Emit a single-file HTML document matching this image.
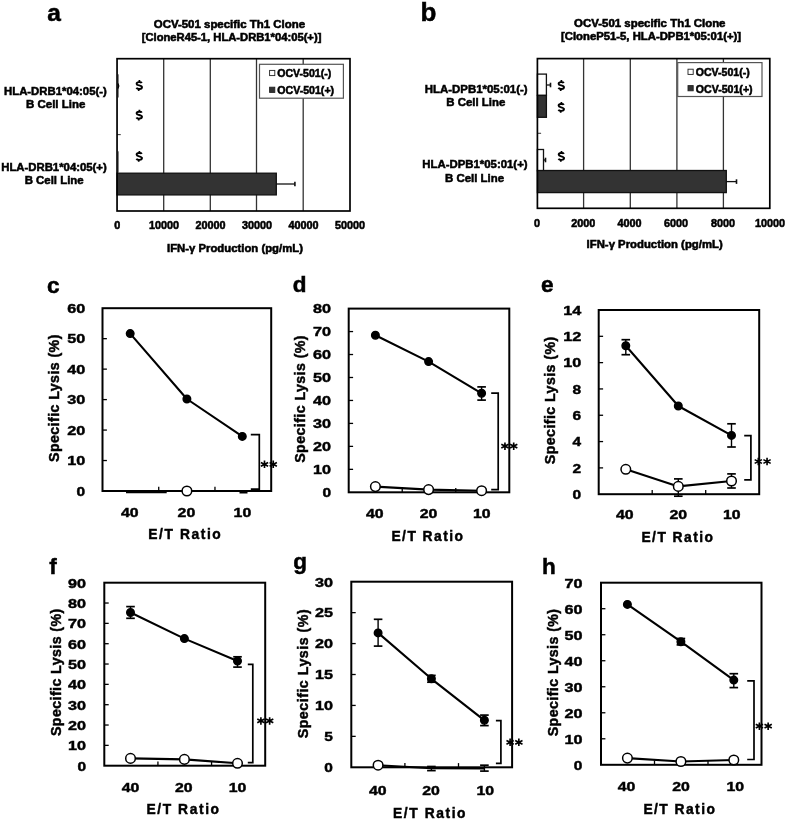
<!DOCTYPE html><html><head><meta charset="utf-8"><style>html,body{margin:0;padding:0;background:#fff;overflow:hidden;}svg{display:block;will-change:transform;}text{font-family:"Liberation Sans",sans-serif;font-weight:bold;fill:#000;}</style></head><body>
<svg width="787" height="820" viewBox="0 0 787 820">
<rect width="787" height="820" fill="#fff"/>
<line x1="163.70" y1="58.70" x2="163.70" y2="211.00" stroke="#333" stroke-width="1.3"/>
<line x1="210.30" y1="58.70" x2="210.30" y2="211.00" stroke="#333" stroke-width="1.3"/>
<line x1="256.50" y1="58.70" x2="256.50" y2="211.00" stroke="#333" stroke-width="1.3"/>
<line x1="303.20" y1="58.70" x2="303.20" y2="211.00" stroke="#333" stroke-width="1.3"/>
<line x1="117.05" y1="134.60" x2="120.75" y2="134.60" stroke="#444" stroke-width="1.1"/>
<rect x="117.05" y="173.20" width="159.25" height="21.70" fill="#333" stroke="#111" stroke-width="1.3"/>
<line x1="276.30" y1="184.00" x2="294.90" y2="184.00" stroke="#111" stroke-width="1.3"/>
<line x1="294.90" y1="181.70" x2="294.90" y2="186.30" stroke="#111" stroke-width="1.6"/>
<path d="M118.3,74.3 V97.5 M118.3,151.3 V173" stroke="#555" stroke-width="0.9"/>
<path d="M118,83.5 Q119.6,86 118,88.5" stroke="#000" stroke-width="1.3" fill="none"/>
<rect x="117.05" y="58.70" width="232.95" height="152.30" fill="none" stroke="#000" stroke-width="1.7"/>
<rect x="259.50" y="64.30" width="83.90" height="33.90" fill="#fff" stroke="#555" stroke-width="1.2"/>
<rect x="269.60" y="70.40" width="5.20" height="5.20" fill="#fff" stroke="#222" stroke-width="0.9"/>
<text x="277.30" y="77.30" font-size="11" text-anchor="start" textLength="53.9" lengthAdjust="spacingAndGlyphs" stroke="#000" stroke-width="0.55">OCV-501(-)</text>
<rect x="269.60" y="87.20" width="5.20" height="5.20" fill="#333" stroke="#222" stroke-width="0.9"/>
<text x="277.30" y="94.10" font-size="11" text-anchor="start" textLength="56.8" lengthAdjust="spacingAndGlyphs" stroke="#000" stroke-width="0.55">OCV-501(+)</text>
<path d="M141.80,83.00 C141.20,81.80 136.60,81.60 136.60,83.90 C136.60,85.70 142.00,85.10 142.00,87.20 C142.00,89.40 137.40,89.50 136.40,87.80" fill="none" stroke="#000" stroke-width="1.9"/>
<path d="M139.40,80.10 V82.20 M138.70,88.80 V90.90" fill="none" stroke="#000" stroke-width="1.7"/>
<path d="M141.80,112.60 C141.20,111.40 136.60,111.20 136.60,113.50 C136.60,115.30 142.00,114.70 142.00,116.80 C142.00,119.00 137.40,119.10 136.40,117.40" fill="none" stroke="#000" stroke-width="1.9"/>
<path d="M139.40,109.70 V111.80 M138.70,118.40 V120.50" fill="none" stroke="#000" stroke-width="1.7"/>
<path d="M141.80,153.90 C141.20,152.70 136.60,152.50 136.60,154.80 C136.60,156.60 142.00,156.00 142.00,158.10 C142.00,160.30 137.40,160.40 136.40,158.70" fill="none" stroke="#000" stroke-width="1.9"/>
<path d="M139.40,151.00 V153.10 M138.70,159.70 V161.80" fill="none" stroke="#000" stroke-width="1.7"/>
<text x="117.30" y="229.40" font-size="10.8" text-anchor="middle" stroke="#000" stroke-width="0.55">0</text>
<text x="164.00" y="229.40" font-size="10.8" text-anchor="middle" stroke="#000" stroke-width="0.55">10000</text>
<text x="210.50" y="229.40" font-size="10.8" text-anchor="middle" stroke="#000" stroke-width="0.55">20000</text>
<text x="257.00" y="229.40" font-size="10.8" text-anchor="middle" stroke="#000" stroke-width="0.55">30000</text>
<text x="303.50" y="229.40" font-size="10.8" text-anchor="middle" stroke="#000" stroke-width="0.55">40000</text>
<text x="350.00" y="229.40" font-size="10.8" text-anchor="middle" stroke="#000" stroke-width="0.55">50000</text>
<text x="47.20" y="20.70" font-size="24.5" text-anchor="start" stroke="#000" stroke-width="0.5">a</text>
<text x="153.80" y="28.20" font-size="10.6" text-anchor="start" textLength="151.3" lengthAdjust="spacingAndGlyphs" stroke="#000" stroke-width="0.55">OCV-501 specific Th1 Clone</text>
<text x="141.70" y="40.80" font-size="10.6" text-anchor="start" textLength="179.7" lengthAdjust="spacingAndGlyphs" stroke="#000" stroke-width="0.55">[CloneR45-1, HLA-DRB1*04:05(+)]</text>
<text x="4.00" y="94.80" font-size="11.8" text-anchor="start" textLength="102.8" lengthAdjust="spacingAndGlyphs" stroke="#000" stroke-width="0.55">HLA-DRB1*04:05(-)</text>
<text x="26.00" y="107.80" font-size="11.8" text-anchor="start" textLength="59.3" lengthAdjust="spacingAndGlyphs" stroke="#000" stroke-width="0.55">B Cell Line</text>
<text x="1.20" y="171.00" font-size="11.8" text-anchor="start" textLength="105.6" lengthAdjust="spacingAndGlyphs" stroke="#000" stroke-width="0.55">HLA-DRB1*04:05(+)</text>
<text x="24.70" y="184.30" font-size="11.8" text-anchor="start" textLength="59.0" lengthAdjust="spacingAndGlyphs" stroke="#000" stroke-width="0.55">B Cell Line</text>
<text x="167.00" y="251.60" font-size="11" text-anchor="start" textLength="135.9" lengthAdjust="spacingAndGlyphs" stroke="#000" stroke-width="0.55">IFN-γ Production (pg/mL)</text>
<line x1="583.60" y1="58.60" x2="583.60" y2="208.30" stroke="#333" stroke-width="1.3"/>
<line x1="630.30" y1="58.60" x2="630.30" y2="208.30" stroke="#333" stroke-width="1.3"/>
<line x1="676.90" y1="58.60" x2="676.90" y2="208.30" stroke="#333" stroke-width="1.3"/>
<line x1="723.40" y1="58.60" x2="723.40" y2="208.30" stroke="#333" stroke-width="1.3"/>
<line x1="537.40" y1="133.30" x2="541.10" y2="133.30" stroke="#444" stroke-width="1.1"/>
<rect x="537.40" y="74.10" width="9.00" height="21.30" fill="#fff" stroke="#111" stroke-width="1.3"/>
<line x1="546.40" y1="85.00" x2="550.50" y2="85.00" stroke="#111" stroke-width="1.3"/>
<line x1="550.50" y1="82.70" x2="550.50" y2="87.30" stroke="#111" stroke-width="1.6"/>
<rect x="537.40" y="95.40" width="9.00" height="21.90" fill="#333" stroke="#111" stroke-width="1.3"/>
<rect x="537.40" y="149.50" width="6.10" height="21.30" fill="#fff" stroke="#111" stroke-width="1.3"/>
<line x1="543.50" y1="160.00" x2="545.50" y2="160.00" stroke="#111" stroke-width="1.3"/>
<line x1="545.50" y1="157.70" x2="545.50" y2="162.30" stroke="#111" stroke-width="1.6"/>
<rect x="537.40" y="170.50" width="188.90" height="22.10" fill="#333" stroke="#111" stroke-width="1.3"/>
<line x1="726.30" y1="181.60" x2="736.50" y2="181.60" stroke="#111" stroke-width="1.3"/>
<line x1="736.50" y1="179.30" x2="736.50" y2="183.90" stroke="#111" stroke-width="1.6"/>
<rect x="537.40" y="58.60" width="232.40" height="149.70" fill="none" stroke="#000" stroke-width="1.7"/>
<rect x="677.70" y="62.60" width="84.30" height="33.90" fill="#fff" stroke="#555" stroke-width="1.2"/>
<rect x="688.00" y="69.20" width="5.20" height="5.20" fill="#fff" stroke="#222" stroke-width="0.9"/>
<text x="695.80" y="76.10" font-size="11" text-anchor="start" textLength="53.9" lengthAdjust="spacingAndGlyphs" stroke="#000" stroke-width="0.55">OCV-501(-)</text>
<rect x="688.00" y="85.60" width="5.20" height="5.20" fill="#333" stroke="#222" stroke-width="0.9"/>
<text x="695.80" y="92.50" font-size="11" text-anchor="start" textLength="56.8" lengthAdjust="spacingAndGlyphs" stroke="#000" stroke-width="0.55">OCV-501(+)</text>
<path d="M563.80,83.00 C563.20,81.80 558.60,81.60 558.60,83.90 C558.60,85.70 564.00,85.10 564.00,87.20 C564.00,89.40 559.40,89.50 558.40,87.80" fill="none" stroke="#000" stroke-width="1.9"/>
<path d="M561.40,80.10 V82.20 M560.70,88.80 V90.90" fill="none" stroke="#000" stroke-width="1.7"/>
<path d="M563.80,104.90 C563.20,103.70 558.60,103.50 558.60,105.80 C558.60,107.60 564.00,107.00 564.00,109.10 C564.00,111.30 559.40,111.40 558.40,109.70" fill="none" stroke="#000" stroke-width="1.9"/>
<path d="M561.40,102.00 V104.10 M560.70,110.70 V112.80" fill="none" stroke="#000" stroke-width="1.7"/>
<path d="M563.90,153.90 C563.30,152.70 558.70,152.50 558.70,154.80 C558.70,156.60 564.10,156.00 564.10,158.10 C564.10,160.30 559.50,160.40 558.50,158.70" fill="none" stroke="#000" stroke-width="1.9"/>
<path d="M561.50,151.00 V153.10 M560.80,159.70 V161.80" fill="none" stroke="#000" stroke-width="1.7"/>
<text x="537.00" y="226.50" font-size="10.8" text-anchor="middle" stroke="#000" stroke-width="0.55">0</text>
<text x="583.20" y="226.50" font-size="10.8" text-anchor="middle" stroke="#000" stroke-width="0.55">2000</text>
<text x="629.60" y="226.50" font-size="10.8" text-anchor="middle" stroke="#000" stroke-width="0.55">4000</text>
<text x="676.00" y="226.50" font-size="10.8" text-anchor="middle" stroke="#000" stroke-width="0.55">6000</text>
<text x="723.10" y="226.50" font-size="10.8" text-anchor="middle" stroke="#000" stroke-width="0.55">8000</text>
<text x="770.00" y="226.50" font-size="10.8" text-anchor="middle" stroke="#000" stroke-width="0.55">10000</text>
<text x="420.60" y="20.70" font-size="26" text-anchor="start" stroke="#000" stroke-width="0.5">b</text>
<text x="574.10" y="27.30" font-size="10.6" text-anchor="start" textLength="151.4" lengthAdjust="spacingAndGlyphs" stroke="#000" stroke-width="0.55">OCV-501 specific Th1 Clone</text>
<text x="561.00" y="40.20" font-size="10.6" text-anchor="start" textLength="180.1" lengthAdjust="spacingAndGlyphs" stroke="#000" stroke-width="0.55">[CloneP51-5, HLA-DPB1*05:01(+)]</text>
<text x="424.80" y="93.10" font-size="11.8" text-anchor="start" textLength="102.8" lengthAdjust="spacingAndGlyphs" stroke="#000" stroke-width="0.55">HLA-DPB1*05:01(-)</text>
<text x="446.30" y="106.30" font-size="11.8" text-anchor="start" textLength="59.0" lengthAdjust="spacingAndGlyphs" stroke="#000" stroke-width="0.55">B Cell Line</text>
<text x="422.30" y="168.30" font-size="11.8" text-anchor="start" textLength="105.3" lengthAdjust="spacingAndGlyphs" stroke="#000" stroke-width="0.55">HLA-DPB1*05:01(+)</text>
<text x="445.10" y="181.50" font-size="11.8" text-anchor="start" textLength="59.0" lengthAdjust="spacingAndGlyphs" stroke="#000" stroke-width="0.55">B Cell Line</text>
<text x="586.60" y="248.00" font-size="11" text-anchor="start" textLength="136.1" lengthAdjust="spacingAndGlyphs" stroke="#000" stroke-width="0.55">IFN-γ Production (pg/mL)</text>
<text x="85.20" y="495.80" font-size="13.6" text-anchor="end" textLength="8.6" lengthAdjust="spacingAndGlyphs" stroke="#000" stroke-width="0.45">0</text>
<line x1="102.50" y1="460.53" x2="106.90" y2="460.53" stroke="#000" stroke-width="1.3"/>
<text x="85.20" y="465.33" font-size="13.6" text-anchor="end" textLength="18.0" lengthAdjust="spacingAndGlyphs" stroke="#000" stroke-width="0.45">10</text>
<line x1="102.50" y1="430.07" x2="106.90" y2="430.07" stroke="#000" stroke-width="1.3"/>
<text x="85.20" y="434.87" font-size="13.6" text-anchor="end" textLength="18.0" lengthAdjust="spacingAndGlyphs" stroke="#000" stroke-width="0.45">20</text>
<line x1="102.50" y1="399.60" x2="106.90" y2="399.60" stroke="#000" stroke-width="1.3"/>
<text x="85.20" y="404.40" font-size="13.6" text-anchor="end" textLength="18.0" lengthAdjust="spacingAndGlyphs" stroke="#000" stroke-width="0.45">30</text>
<line x1="102.50" y1="369.13" x2="106.90" y2="369.13" stroke="#000" stroke-width="1.3"/>
<text x="85.20" y="373.93" font-size="13.6" text-anchor="end" textLength="18.0" lengthAdjust="spacingAndGlyphs" stroke="#000" stroke-width="0.45">40</text>
<line x1="102.50" y1="338.67" x2="106.90" y2="338.67" stroke="#000" stroke-width="1.3"/>
<text x="85.20" y="343.47" font-size="13.6" text-anchor="end" textLength="18.0" lengthAdjust="spacingAndGlyphs" stroke="#000" stroke-width="0.45">50</text>
<text x="85.20" y="313.00" font-size="13.6" text-anchor="end" textLength="18.0" lengthAdjust="spacingAndGlyphs" stroke="#000" stroke-width="0.45">60</text>
<line x1="158.73" y1="491.00" x2="158.73" y2="486.80" stroke="#000" stroke-width="1.3"/>
<line x1="214.97" y1="491.00" x2="214.97" y2="486.80" stroke="#000" stroke-width="1.3"/>
<path d="M126,492.3 H166.7" stroke="#000" stroke-width="2"/>
<path d="M239.5,492.3 H247.5" stroke="#000" stroke-width="2.4"/>
<rect x="102.50" y="308.20" width="168.70" height="182.80" fill="none" stroke="#000" stroke-width="2.0"/>
<circle cx="186.9" cy="491.0" r="4.8" fill="#fff" stroke="#000" stroke-width="1.5"/>
<path d="M130.2,333.6 L186.9,399.0 L242.3,436.4" fill="none" stroke="#000" stroke-width="2.1" stroke-linejoin="round"/>
<circle cx="130.2" cy="333.6" r="3.8" fill="#000" stroke="#000" stroke-width="1.4"/>
<circle cx="186.9" cy="399.0" r="3.8" fill="#000" stroke="#000" stroke-width="1.4"/>
<circle cx="242.3" cy="436.4" r="3.8" fill="#000" stroke="#000" stroke-width="1.4"/>
<path d="M250.80,434.60 H259.30 V489.20 H250.80" fill="none" stroke="#000" stroke-width="1.7"/>
<path d="M264.50,460.55V468.05M260.86,462.43L268.14,466.18M260.86,466.18L268.14,462.43" stroke="#000" stroke-width="1.65" fill="none"/>
<path d="M273.25,460.55V468.05M269.61,462.43L276.89,466.18M269.61,466.18L276.89,462.43" stroke="#000" stroke-width="1.65" fill="none"/>
<text x="121.00" y="517.10" font-size="13.6" text-anchor="start" textLength="17.6" lengthAdjust="spacingAndGlyphs" stroke="#000" stroke-width="0.45">40</text>
<text x="177.60" y="517.10" font-size="13.6" text-anchor="start" textLength="17.6" lengthAdjust="spacingAndGlyphs" stroke="#000" stroke-width="0.45">20</text>
<text x="233.60" y="517.10" font-size="13.6" text-anchor="start" textLength="17.6" lengthAdjust="spacingAndGlyphs" stroke="#000" stroke-width="0.45">10</text>
<text x="148.20" y="538.80" font-size="13.8" text-anchor="start" textLength="72.6" lengthAdjust="spacing" stroke="#000" stroke-width="0.45">E/T Ratio</text>
<g transform="translate(59.00,462.00) rotate(-90)">
<text x="0.00" y="0.00" font-size="14.2" text-anchor="start" textLength="127.4" lengthAdjust="spacing" stroke="#000" stroke-width="0.45">Specific Lysis (%)</text>
</g>
<text x="47.00" y="292.60" font-size="22.5" text-anchor="start" stroke="#000" stroke-width="0.5">c</text>
<text x="331.00" y="497.10" font-size="13.6" text-anchor="end" textLength="8.6" lengthAdjust="spacingAndGlyphs" stroke="#000" stroke-width="0.45">0</text>
<line x1="348.70" y1="469.34" x2="353.10" y2="469.34" stroke="#000" stroke-width="1.3"/>
<text x="331.00" y="474.14" font-size="13.6" text-anchor="end" textLength="18.0" lengthAdjust="spacingAndGlyphs" stroke="#000" stroke-width="0.45">10</text>
<line x1="348.70" y1="446.38" x2="353.10" y2="446.38" stroke="#000" stroke-width="1.3"/>
<text x="331.00" y="451.18" font-size="13.6" text-anchor="end" textLength="18.0" lengthAdjust="spacingAndGlyphs" stroke="#000" stroke-width="0.45">20</text>
<line x1="348.70" y1="423.41" x2="353.10" y2="423.41" stroke="#000" stroke-width="1.3"/>
<text x="331.00" y="428.21" font-size="13.6" text-anchor="end" textLength="18.0" lengthAdjust="spacingAndGlyphs" stroke="#000" stroke-width="0.45">30</text>
<line x1="348.70" y1="400.45" x2="353.10" y2="400.45" stroke="#000" stroke-width="1.3"/>
<text x="331.00" y="405.25" font-size="13.6" text-anchor="end" textLength="18.0" lengthAdjust="spacingAndGlyphs" stroke="#000" stroke-width="0.45">40</text>
<line x1="348.70" y1="377.49" x2="353.10" y2="377.49" stroke="#000" stroke-width="1.3"/>
<text x="331.00" y="382.29" font-size="13.6" text-anchor="end" textLength="18.0" lengthAdjust="spacingAndGlyphs" stroke="#000" stroke-width="0.45">50</text>
<line x1="348.70" y1="354.52" x2="353.10" y2="354.52" stroke="#000" stroke-width="1.3"/>
<text x="331.00" y="359.32" font-size="13.6" text-anchor="end" textLength="18.0" lengthAdjust="spacingAndGlyphs" stroke="#000" stroke-width="0.45">60</text>
<line x1="348.70" y1="331.56" x2="353.10" y2="331.56" stroke="#000" stroke-width="1.3"/>
<text x="331.00" y="336.36" font-size="13.6" text-anchor="end" textLength="18.0" lengthAdjust="spacingAndGlyphs" stroke="#000" stroke-width="0.45">70</text>
<text x="331.00" y="313.40" font-size="13.6" text-anchor="end" textLength="18.0" lengthAdjust="spacingAndGlyphs" stroke="#000" stroke-width="0.45">80</text>
<line x1="402.23" y1="492.30" x2="402.23" y2="488.10" stroke="#000" stroke-width="1.3"/>
<line x1="455.77" y1="492.30" x2="455.77" y2="488.10" stroke="#000" stroke-width="1.3"/>
<rect x="348.70" y="308.60" width="160.60" height="183.70" fill="none" stroke="#000" stroke-width="2.0"/>
<path d="M375.4,486.6 L428.6,489.6 L481.6,490.7" fill="none" stroke="#000" stroke-width="2.1" stroke-linejoin="round"/>
<circle cx="375.4" cy="486.6" r="4.8" fill="#fff" stroke="#000" stroke-width="1.5"/>
<circle cx="428.6" cy="489.6" r="4.8" fill="#fff" stroke="#000" stroke-width="1.5"/>
<circle cx="481.6" cy="490.7" r="4.8" fill="#fff" stroke="#000" stroke-width="1.5"/>
<path d="M375.4,335.3 L428.6,361.6 L481.6,393.3" fill="none" stroke="#000" stroke-width="2.1" stroke-linejoin="round"/>
<circle cx="375.4" cy="335.3" r="3.8" fill="#000" stroke="#000" stroke-width="1.4"/>
<circle cx="428.6" cy="361.6" r="3.8" fill="#000" stroke="#000" stroke-width="1.4"/>
<line x1="481.60" y1="386.90" x2="481.60" y2="400.10" stroke="#000" stroke-width="1.4"/>
<line x1="477.30" y1="386.90" x2="485.90" y2="386.90" stroke="#000" stroke-width="1.7"/>
<line x1="477.30" y1="400.10" x2="485.90" y2="400.10" stroke="#000" stroke-width="1.7"/>
<circle cx="481.6" cy="393.3" r="3.8" fill="#000" stroke="#000" stroke-width="1.4"/>
<path d="M491.20,393.10 H498.20 V489.70 H491.20" fill="none" stroke="#000" stroke-width="1.7"/>
<path d="M504.95,442.45V449.95M501.31,444.32L508.59,448.07M501.31,448.07L508.59,444.32" stroke="#000" stroke-width="1.65" fill="none"/>
<path d="M513.70,442.45V449.95M510.06,444.32L517.34,448.07M510.06,448.07L517.34,444.32" stroke="#000" stroke-width="1.65" fill="none"/>
<text x="366.00" y="518.30" font-size="13.6" text-anchor="start" textLength="17.6" lengthAdjust="spacingAndGlyphs" stroke="#000" stroke-width="0.45">40</text>
<text x="419.70" y="518.30" font-size="13.6" text-anchor="start" textLength="17.6" lengthAdjust="spacingAndGlyphs" stroke="#000" stroke-width="0.45">20</text>
<text x="473.00" y="518.30" font-size="13.6" text-anchor="start" textLength="17.6" lengthAdjust="spacingAndGlyphs" stroke="#000" stroke-width="0.45">10</text>
<text x="391.40" y="540.50" font-size="13.8" text-anchor="start" textLength="71.6" lengthAdjust="spacing" stroke="#000" stroke-width="0.45">E/T Ratio</text>
<g transform="translate(305.40,462.80) rotate(-90)">
<text x="0.00" y="0.00" font-size="14.2" text-anchor="start" textLength="127.4" lengthAdjust="spacing" stroke="#000" stroke-width="0.45">Specific Lysis (%)</text>
</g>
<text x="292.80" y="292.30" font-size="22.5" text-anchor="start" stroke="#000" stroke-width="0.5">d</text>
<text x="581.20" y="499.00" font-size="13.6" text-anchor="end" textLength="8.6" lengthAdjust="spacingAndGlyphs" stroke="#000" stroke-width="0.45">0</text>
<line x1="598.70" y1="467.89" x2="603.10" y2="467.89" stroke="#000" stroke-width="1.3"/>
<text x="581.20" y="472.69" font-size="13.6" text-anchor="end" textLength="8.6" lengthAdjust="spacingAndGlyphs" stroke="#000" stroke-width="0.45">2</text>
<line x1="598.70" y1="441.57" x2="603.10" y2="441.57" stroke="#000" stroke-width="1.3"/>
<text x="581.20" y="446.37" font-size="13.6" text-anchor="end" textLength="8.6" lengthAdjust="spacingAndGlyphs" stroke="#000" stroke-width="0.45">4</text>
<line x1="598.70" y1="415.26" x2="603.10" y2="415.26" stroke="#000" stroke-width="1.3"/>
<text x="581.20" y="420.06" font-size="13.6" text-anchor="end" textLength="8.6" lengthAdjust="spacingAndGlyphs" stroke="#000" stroke-width="0.45">6</text>
<line x1="598.70" y1="388.94" x2="603.10" y2="388.94" stroke="#000" stroke-width="1.3"/>
<text x="581.20" y="393.74" font-size="13.6" text-anchor="end" textLength="8.6" lengthAdjust="spacingAndGlyphs" stroke="#000" stroke-width="0.45">8</text>
<line x1="598.70" y1="362.63" x2="603.10" y2="362.63" stroke="#000" stroke-width="1.3"/>
<text x="581.20" y="367.43" font-size="13.6" text-anchor="end" textLength="18.0" lengthAdjust="spacingAndGlyphs" stroke="#000" stroke-width="0.45">10</text>
<line x1="598.70" y1="336.31" x2="603.10" y2="336.31" stroke="#000" stroke-width="1.3"/>
<text x="581.20" y="341.11" font-size="13.6" text-anchor="end" textLength="18.0" lengthAdjust="spacingAndGlyphs" stroke="#000" stroke-width="0.45">12</text>
<text x="581.20" y="314.80" font-size="13.6" text-anchor="end" textLength="18.0" lengthAdjust="spacingAndGlyphs" stroke="#000" stroke-width="0.45">14</text>
<line x1="652.20" y1="494.20" x2="652.20" y2="490.00" stroke="#000" stroke-width="1.3"/>
<line x1="705.70" y1="494.20" x2="705.70" y2="490.00" stroke="#000" stroke-width="1.3"/>
<rect x="598.70" y="310.00" width="160.50" height="184.20" fill="none" stroke="#000" stroke-width="2.0"/>
<path d="M625.8,469.3 L678.3,486.4 L731.5,481.0" fill="none" stroke="#000" stroke-width="2.1" stroke-linejoin="round"/>
<circle cx="625.8" cy="469.3" r="4.8" fill="#fff" stroke="#000" stroke-width="1.5"/>
<line x1="678.30" y1="478.90" x2="678.30" y2="496.20" stroke="#000" stroke-width="1.4"/>
<line x1="674.00" y1="478.90" x2="682.60" y2="478.90" stroke="#000" stroke-width="1.7"/>
<line x1="674.00" y1="496.20" x2="682.60" y2="496.20" stroke="#000" stroke-width="1.7"/>
<circle cx="678.3" cy="486.4" r="4.8" fill="#fff" stroke="#000" stroke-width="1.5"/>
<line x1="731.50" y1="473.90" x2="731.50" y2="488.00" stroke="#000" stroke-width="1.4"/>
<line x1="727.20" y1="473.90" x2="735.80" y2="473.90" stroke="#000" stroke-width="1.7"/>
<line x1="727.20" y1="488.00" x2="735.80" y2="488.00" stroke="#000" stroke-width="1.7"/>
<circle cx="731.5" cy="481.0" r="4.8" fill="#fff" stroke="#000" stroke-width="1.5"/>
<path d="M625.8,345.8 L678.3,406.0 L731.5,435.4" fill="none" stroke="#000" stroke-width="2.1" stroke-linejoin="round"/>
<line x1="625.80" y1="339.70" x2="625.80" y2="354.70" stroke="#000" stroke-width="1.4"/>
<line x1="621.50" y1="339.70" x2="630.10" y2="339.70" stroke="#000" stroke-width="1.7"/>
<line x1="621.50" y1="354.70" x2="630.10" y2="354.70" stroke="#000" stroke-width="1.7"/>
<circle cx="625.8" cy="345.8" r="3.8" fill="#000" stroke="#000" stroke-width="1.4"/>
<circle cx="678.3" cy="406.0" r="3.8" fill="#000" stroke="#000" stroke-width="1.4"/>
<line x1="731.50" y1="423.80" x2="731.50" y2="447.00" stroke="#000" stroke-width="1.4"/>
<line x1="727.20" y1="423.80" x2="735.80" y2="423.80" stroke="#000" stroke-width="1.7"/>
<line x1="727.20" y1="447.00" x2="735.80" y2="447.00" stroke="#000" stroke-width="1.7"/>
<circle cx="731.5" cy="435.4" r="3.8" fill="#000" stroke="#000" stroke-width="1.4"/>
<path d="M744.20,435.70 H750.90 V479.80 H744.20" fill="none" stroke="#000" stroke-width="1.7"/>
<path d="M758.30,457.75V465.25M754.66,459.62L761.94,463.38M754.66,463.38L761.94,459.62" stroke="#000" stroke-width="1.65" fill="none"/>
<path d="M767.05,457.75V465.25M763.41,459.62L770.69,463.38M763.41,463.38L770.69,459.62" stroke="#000" stroke-width="1.65" fill="none"/>
<text x="616.00" y="519.40" font-size="13.6" text-anchor="start" textLength="17.6" lengthAdjust="spacingAndGlyphs" stroke="#000" stroke-width="0.45">40</text>
<text x="669.50" y="519.40" font-size="13.6" text-anchor="start" textLength="17.6" lengthAdjust="spacingAndGlyphs" stroke="#000" stroke-width="0.45">20</text>
<text x="723.00" y="519.40" font-size="13.6" text-anchor="start" textLength="17.6" lengthAdjust="spacingAndGlyphs" stroke="#000" stroke-width="0.45">10</text>
<text x="641.40" y="542.20" font-size="13.8" text-anchor="start" textLength="71.6" lengthAdjust="spacing" stroke="#000" stroke-width="0.45">E/T Ratio</text>
<g transform="translate(555.10,464.20) rotate(-90)">
<text x="0.00" y="0.00" font-size="14.2" text-anchor="start" textLength="127.4" lengthAdjust="spacing" stroke="#000" stroke-width="0.45">Specific Lysis (%)</text>
</g>
<text x="541.10" y="292.00" font-size="22.5" text-anchor="start" stroke="#000" stroke-width="0.5">e</text>
<text x="86.00" y="770.50" font-size="13.6" text-anchor="end" textLength="8.6" lengthAdjust="spacingAndGlyphs" stroke="#000" stroke-width="0.45">0</text>
<line x1="104.30" y1="745.37" x2="108.70" y2="745.37" stroke="#000" stroke-width="1.3"/>
<text x="86.00" y="750.17" font-size="13.6" text-anchor="end" textLength="18.0" lengthAdjust="spacingAndGlyphs" stroke="#000" stroke-width="0.45">10</text>
<line x1="104.30" y1="725.03" x2="108.70" y2="725.03" stroke="#000" stroke-width="1.3"/>
<text x="86.00" y="729.83" font-size="13.6" text-anchor="end" textLength="18.0" lengthAdjust="spacingAndGlyphs" stroke="#000" stroke-width="0.45">20</text>
<line x1="104.30" y1="704.70" x2="108.70" y2="704.70" stroke="#000" stroke-width="1.3"/>
<text x="86.00" y="709.50" font-size="13.6" text-anchor="end" textLength="18.0" lengthAdjust="spacingAndGlyphs" stroke="#000" stroke-width="0.45">30</text>
<line x1="104.30" y1="684.37" x2="108.70" y2="684.37" stroke="#000" stroke-width="1.3"/>
<text x="86.00" y="689.17" font-size="13.6" text-anchor="end" textLength="18.0" lengthAdjust="spacingAndGlyphs" stroke="#000" stroke-width="0.45">40</text>
<line x1="104.30" y1="664.03" x2="108.70" y2="664.03" stroke="#000" stroke-width="1.3"/>
<text x="86.00" y="668.83" font-size="13.6" text-anchor="end" textLength="18.0" lengthAdjust="spacingAndGlyphs" stroke="#000" stroke-width="0.45">50</text>
<line x1="104.30" y1="643.70" x2="108.70" y2="643.70" stroke="#000" stroke-width="1.3"/>
<text x="86.00" y="648.50" font-size="13.6" text-anchor="end" textLength="18.0" lengthAdjust="spacingAndGlyphs" stroke="#000" stroke-width="0.45">60</text>
<line x1="104.30" y1="623.37" x2="108.70" y2="623.37" stroke="#000" stroke-width="1.3"/>
<text x="86.00" y="628.17" font-size="13.6" text-anchor="end" textLength="18.0" lengthAdjust="spacingAndGlyphs" stroke="#000" stroke-width="0.45">70</text>
<line x1="104.30" y1="603.03" x2="108.70" y2="603.03" stroke="#000" stroke-width="1.3"/>
<text x="86.00" y="607.83" font-size="13.6" text-anchor="end" textLength="18.0" lengthAdjust="spacingAndGlyphs" stroke="#000" stroke-width="0.45">80</text>
<text x="86.00" y="587.50" font-size="13.6" text-anchor="end" textLength="18.0" lengthAdjust="spacingAndGlyphs" stroke="#000" stroke-width="0.45">90</text>
<line x1="157.93" y1="765.70" x2="157.93" y2="761.50" stroke="#000" stroke-width="1.3"/>
<line x1="211.57" y1="765.70" x2="211.57" y2="761.50" stroke="#000" stroke-width="1.3"/>
<rect x="104.30" y="582.70" width="160.90" height="183.00" fill="none" stroke="#000" stroke-width="2.0"/>
<path d="M130.5,758.4 L184.4,759.4 L237.5,763.3" fill="none" stroke="#000" stroke-width="2.1" stroke-linejoin="round"/>
<circle cx="130.5" cy="758.4" r="4.8" fill="#fff" stroke="#000" stroke-width="1.5"/>
<circle cx="184.4" cy="759.4" r="4.8" fill="#fff" stroke="#000" stroke-width="1.5"/>
<circle cx="237.5" cy="763.3" r="4.8" fill="#fff" stroke="#000" stroke-width="1.5"/>
<path d="M130.5,612.5 L184.4,638.6 L237.5,661.0" fill="none" stroke="#000" stroke-width="2.1" stroke-linejoin="round"/>
<line x1="130.50" y1="606.60" x2="130.50" y2="618.30" stroke="#000" stroke-width="1.4"/>
<line x1="126.20" y1="606.60" x2="134.80" y2="606.60" stroke="#000" stroke-width="1.7"/>
<line x1="126.20" y1="618.30" x2="134.80" y2="618.30" stroke="#000" stroke-width="1.7"/>
<circle cx="130.5" cy="612.5" r="3.8" fill="#000" stroke="#000" stroke-width="1.4"/>
<circle cx="184.4" cy="638.6" r="3.8" fill="#000" stroke="#000" stroke-width="1.4"/>
<line x1="237.50" y1="656.80" x2="237.50" y2="667.10" stroke="#000" stroke-width="1.4"/>
<line x1="233.20" y1="656.80" x2="241.80" y2="656.80" stroke="#000" stroke-width="1.7"/>
<line x1="233.20" y1="667.10" x2="241.80" y2="667.10" stroke="#000" stroke-width="1.7"/>
<circle cx="237.5" cy="661.0" r="3.8" fill="#000" stroke="#000" stroke-width="1.4"/>
<path d="M247.80,664.30 H252.80 V762.60 H247.80" fill="none" stroke="#000" stroke-width="1.7"/>
<path d="M260.90,717.15V724.65M257.26,719.02L264.54,722.77M257.26,722.77L264.54,719.02" stroke="#000" stroke-width="1.65" fill="none"/>
<path d="M269.65,717.15V724.65M266.01,719.02L273.29,722.77M266.01,722.77L273.29,719.02" stroke="#000" stroke-width="1.65" fill="none"/>
<text x="121.70" y="791.70" font-size="13.6" text-anchor="start" textLength="17.6" lengthAdjust="spacingAndGlyphs" stroke="#000" stroke-width="0.45">40</text>
<text x="175.00" y="791.70" font-size="13.6" text-anchor="start" textLength="17.6" lengthAdjust="spacingAndGlyphs" stroke="#000" stroke-width="0.45">20</text>
<text x="228.80" y="791.70" font-size="13.6" text-anchor="start" textLength="17.6" lengthAdjust="spacingAndGlyphs" stroke="#000" stroke-width="0.45">10</text>
<text x="146.40" y="813.90" font-size="13.8" text-anchor="start" textLength="72.6" lengthAdjust="spacing" stroke="#000" stroke-width="0.45">E/T Ratio</text>
<g transform="translate(60.50,736.10) rotate(-90)">
<text x="0.00" y="0.00" font-size="14.2" text-anchor="start" textLength="127.4" lengthAdjust="spacing" stroke="#000" stroke-width="0.45">Specific Lysis (%)</text>
</g>
<text x="49.30" y="573.80" font-size="22.5" text-anchor="start" stroke="#000" stroke-width="0.5">f</text>
<text x="332.90" y="772.10" font-size="13.6" text-anchor="end" textLength="8.6" lengthAdjust="spacingAndGlyphs" stroke="#000" stroke-width="0.45">0</text>
<line x1="351.30" y1="736.37" x2="355.70" y2="736.37" stroke="#000" stroke-width="1.3"/>
<text x="332.90" y="741.17" font-size="13.6" text-anchor="end" textLength="8.6" lengthAdjust="spacingAndGlyphs" stroke="#000" stroke-width="0.45">5</text>
<line x1="351.30" y1="705.43" x2="355.70" y2="705.43" stroke="#000" stroke-width="1.3"/>
<text x="332.90" y="710.23" font-size="13.6" text-anchor="end" textLength="18.0" lengthAdjust="spacingAndGlyphs" stroke="#000" stroke-width="0.45">10</text>
<line x1="351.30" y1="674.50" x2="355.70" y2="674.50" stroke="#000" stroke-width="1.3"/>
<text x="332.90" y="679.30" font-size="13.6" text-anchor="end" textLength="18.0" lengthAdjust="spacingAndGlyphs" stroke="#000" stroke-width="0.45">15</text>
<line x1="351.30" y1="643.57" x2="355.70" y2="643.57" stroke="#000" stroke-width="1.3"/>
<text x="332.90" y="648.37" font-size="13.6" text-anchor="end" textLength="18.0" lengthAdjust="spacingAndGlyphs" stroke="#000" stroke-width="0.45">20</text>
<line x1="351.30" y1="612.63" x2="355.70" y2="612.63" stroke="#000" stroke-width="1.3"/>
<text x="332.90" y="617.43" font-size="13.6" text-anchor="end" textLength="18.0" lengthAdjust="spacingAndGlyphs" stroke="#000" stroke-width="0.45">25</text>
<text x="332.90" y="586.50" font-size="13.6" text-anchor="end" textLength="18.0" lengthAdjust="spacingAndGlyphs" stroke="#000" stroke-width="0.45">30</text>
<line x1="404.90" y1="767.30" x2="404.90" y2="763.10" stroke="#000" stroke-width="1.3"/>
<line x1="458.50" y1="767.30" x2="458.50" y2="763.10" stroke="#000" stroke-width="1.3"/>
<rect x="351.30" y="581.70" width="160.80" height="185.60" fill="none" stroke="#000" stroke-width="2.0"/>
<path d="M378.1,765.2 L431.4,768.2 L484.4,768.5" fill="none" stroke="#000" stroke-width="2.1" stroke-linejoin="round"/>
<circle cx="378.1" cy="765.2" r="4.8" fill="#fff" stroke="#000" stroke-width="1.5"/>
<line x1="431.40" y1="766.50" x2="431.40" y2="770.60" stroke="#000" stroke-width="1.4"/>
<line x1="427.10" y1="766.50" x2="435.70" y2="766.50" stroke="#000" stroke-width="1.7"/>
<line x1="427.10" y1="770.60" x2="435.70" y2="770.60" stroke="#000" stroke-width="1.7"/>
<line x1="484.40" y1="765.20" x2="484.40" y2="771.10" stroke="#000" stroke-width="1.4"/>
<line x1="480.10" y1="765.20" x2="488.70" y2="765.20" stroke="#000" stroke-width="1.7"/>
<line x1="480.10" y1="771.10" x2="488.70" y2="771.10" stroke="#000" stroke-width="1.7"/>
<path d="M378.1,632.9 L431.4,678.8 L484.4,720.3" fill="none" stroke="#000" stroke-width="2.1" stroke-linejoin="round"/>
<line x1="378.10" y1="619.30" x2="378.10" y2="646.10" stroke="#000" stroke-width="1.4"/>
<line x1="373.80" y1="619.30" x2="382.40" y2="619.30" stroke="#000" stroke-width="1.7"/>
<line x1="373.80" y1="646.10" x2="382.40" y2="646.10" stroke="#000" stroke-width="1.7"/>
<circle cx="378.1" cy="632.9" r="3.8" fill="#000" stroke="#000" stroke-width="1.4"/>
<line x1="431.40" y1="675.40" x2="431.40" y2="682.20" stroke="#000" stroke-width="1.4"/>
<line x1="427.10" y1="675.40" x2="435.70" y2="675.40" stroke="#000" stroke-width="1.7"/>
<line x1="427.10" y1="682.20" x2="435.70" y2="682.20" stroke="#000" stroke-width="1.7"/>
<circle cx="431.4" cy="678.8" r="3.8" fill="#000" stroke="#000" stroke-width="1.4"/>
<line x1="484.40" y1="715.10" x2="484.40" y2="725.60" stroke="#000" stroke-width="1.4"/>
<line x1="480.10" y1="715.10" x2="488.70" y2="715.10" stroke="#000" stroke-width="1.7"/>
<line x1="480.10" y1="725.60" x2="488.70" y2="725.60" stroke="#000" stroke-width="1.7"/>
<circle cx="484.4" cy="720.3" r="3.8" fill="#000" stroke="#000" stroke-width="1.4"/>
<path d="M495.90,720.60 H500.90 V763.30 H495.90" fill="none" stroke="#000" stroke-width="1.7"/>
<path d="M510.10,738.55V746.05M506.46,740.42L513.74,744.17M506.46,744.17L513.74,740.42" stroke="#000" stroke-width="1.65" fill="none"/>
<path d="M518.85,738.55V746.05M515.21,740.42L522.49,744.17M515.21,744.17L522.49,740.42" stroke="#000" stroke-width="1.65" fill="none"/>
<text x="368.90" y="794.70" font-size="13.6" text-anchor="start" textLength="17.6" lengthAdjust="spacingAndGlyphs" stroke="#000" stroke-width="0.45">40</text>
<text x="422.20" y="794.70" font-size="13.6" text-anchor="start" textLength="17.6" lengthAdjust="spacingAndGlyphs" stroke="#000" stroke-width="0.45">20</text>
<text x="476.50" y="794.70" font-size="13.6" text-anchor="start" textLength="17.6" lengthAdjust="spacingAndGlyphs" stroke="#000" stroke-width="0.45">10</text>
<text x="393.00" y="817.90" font-size="13.8" text-anchor="start" textLength="72.5" lengthAdjust="spacing" stroke="#000" stroke-width="0.45">E/T Ratio</text>
<g transform="translate(308.00,738.30) rotate(-90)">
<text x="0.00" y="0.00" font-size="14.2" text-anchor="start" textLength="129.0" lengthAdjust="spacing" stroke="#000" stroke-width="0.45">Specific Lysis (%)</text>
</g>
<text x="293.20" y="569.20" font-size="22.5" text-anchor="start" stroke="#000" stroke-width="0.5">g</text>
<text x="582.40" y="769.60" font-size="13.6" text-anchor="end" textLength="8.6" lengthAdjust="spacingAndGlyphs" stroke="#000" stroke-width="0.45">0</text>
<line x1="601.00" y1="738.79" x2="605.40" y2="738.79" stroke="#000" stroke-width="1.3"/>
<text x="582.40" y="743.59" font-size="13.6" text-anchor="end" textLength="18.0" lengthAdjust="spacingAndGlyphs" stroke="#000" stroke-width="0.45">10</text>
<line x1="601.00" y1="712.77" x2="605.40" y2="712.77" stroke="#000" stroke-width="1.3"/>
<text x="582.40" y="717.57" font-size="13.6" text-anchor="end" textLength="18.0" lengthAdjust="spacingAndGlyphs" stroke="#000" stroke-width="0.45">20</text>
<line x1="601.00" y1="686.76" x2="605.40" y2="686.76" stroke="#000" stroke-width="1.3"/>
<text x="582.40" y="691.56" font-size="13.6" text-anchor="end" textLength="18.0" lengthAdjust="spacingAndGlyphs" stroke="#000" stroke-width="0.45">30</text>
<line x1="601.00" y1="660.74" x2="605.40" y2="660.74" stroke="#000" stroke-width="1.3"/>
<text x="582.40" y="665.54" font-size="13.6" text-anchor="end" textLength="18.0" lengthAdjust="spacingAndGlyphs" stroke="#000" stroke-width="0.45">40</text>
<line x1="601.00" y1="634.73" x2="605.40" y2="634.73" stroke="#000" stroke-width="1.3"/>
<text x="582.40" y="639.53" font-size="13.6" text-anchor="end" textLength="18.0" lengthAdjust="spacingAndGlyphs" stroke="#000" stroke-width="0.45">50</text>
<line x1="601.00" y1="608.71" x2="605.40" y2="608.71" stroke="#000" stroke-width="1.3"/>
<text x="582.40" y="613.51" font-size="13.6" text-anchor="end" textLength="18.0" lengthAdjust="spacingAndGlyphs" stroke="#000" stroke-width="0.45">60</text>
<text x="582.40" y="587.50" font-size="13.6" text-anchor="end" textLength="18.0" lengthAdjust="spacingAndGlyphs" stroke="#000" stroke-width="0.45">70</text>
<line x1="654.50" y1="764.80" x2="654.50" y2="760.60" stroke="#000" stroke-width="1.3"/>
<line x1="708.00" y1="764.80" x2="708.00" y2="760.60" stroke="#000" stroke-width="1.3"/>
<rect x="601.00" y="582.70" width="160.50" height="182.10" fill="none" stroke="#000" stroke-width="2.0"/>
<path d="M627.4,758.1 L680.9,761.5 L733.8,760.0" fill="none" stroke="#000" stroke-width="2.1" stroke-linejoin="round"/>
<circle cx="627.4" cy="758.1" r="4.8" fill="#fff" stroke="#000" stroke-width="1.5"/>
<circle cx="680.9" cy="761.5" r="4.8" fill="#fff" stroke="#000" stroke-width="1.5"/>
<circle cx="733.8" cy="760.0" r="4.8" fill="#fff" stroke="#000" stroke-width="1.5"/>
<path d="M627.4,604.4 L680.9,641.7 L733.8,680.1" fill="none" stroke="#000" stroke-width="2.1" stroke-linejoin="round"/>
<circle cx="627.4" cy="604.4" r="3.8" fill="#000" stroke="#000" stroke-width="1.4"/>
<line x1="680.90" y1="638.50" x2="680.90" y2="644.90" stroke="#000" stroke-width="1.4"/>
<line x1="676.60" y1="638.50" x2="685.20" y2="638.50" stroke="#000" stroke-width="1.7"/>
<line x1="676.60" y1="644.90" x2="685.20" y2="644.90" stroke="#000" stroke-width="1.7"/>
<circle cx="680.9" cy="641.7" r="3.8" fill="#000" stroke="#000" stroke-width="1.4"/>
<line x1="733.80" y1="673.70" x2="733.80" y2="687.60" stroke="#000" stroke-width="1.4"/>
<line x1="729.50" y1="673.70" x2="738.10" y2="673.70" stroke="#000" stroke-width="1.7"/>
<line x1="729.50" y1="687.60" x2="738.10" y2="687.60" stroke="#000" stroke-width="1.7"/>
<circle cx="733.8" cy="680.1" r="3.8" fill="#000" stroke="#000" stroke-width="1.4"/>
<path d="M747.20,680.80 H754.00 V759.50 H747.20" fill="none" stroke="#000" stroke-width="1.7"/>
<path d="M759.40,722.45V729.95M755.76,724.33L763.04,728.08M755.76,728.08L763.04,724.33" stroke="#000" stroke-width="1.65" fill="none"/>
<path d="M768.15,722.45V729.95M764.51,724.33L771.79,728.08M764.51,728.08L771.79,724.33" stroke="#000" stroke-width="1.65" fill="none"/>
<text x="617.80" y="791.00" font-size="13.6" text-anchor="start" textLength="17.6" lengthAdjust="spacingAndGlyphs" stroke="#000" stroke-width="0.45">40</text>
<text x="672.20" y="791.00" font-size="13.6" text-anchor="start" textLength="17.6" lengthAdjust="spacingAndGlyphs" stroke="#000" stroke-width="0.45">20</text>
<text x="726.50" y="791.00" font-size="13.6" text-anchor="start" textLength="17.6" lengthAdjust="spacingAndGlyphs" stroke="#000" stroke-width="0.45">10</text>
<text x="643.40" y="813.50" font-size="13.8" text-anchor="start" textLength="71.5" lengthAdjust="spacing" stroke="#000" stroke-width="0.45">E/T Ratio</text>
<g transform="translate(558.00,736.30) rotate(-90)">
<text x="0.00" y="0.00" font-size="14.2" text-anchor="start" textLength="127.4" lengthAdjust="spacing" stroke="#000" stroke-width="0.45">Specific Lysis (%)</text>
</g>
<text x="542.00" y="573.80" font-size="22.5" text-anchor="start" stroke="#000" stroke-width="0.5">h</text>
</svg></body></html>
